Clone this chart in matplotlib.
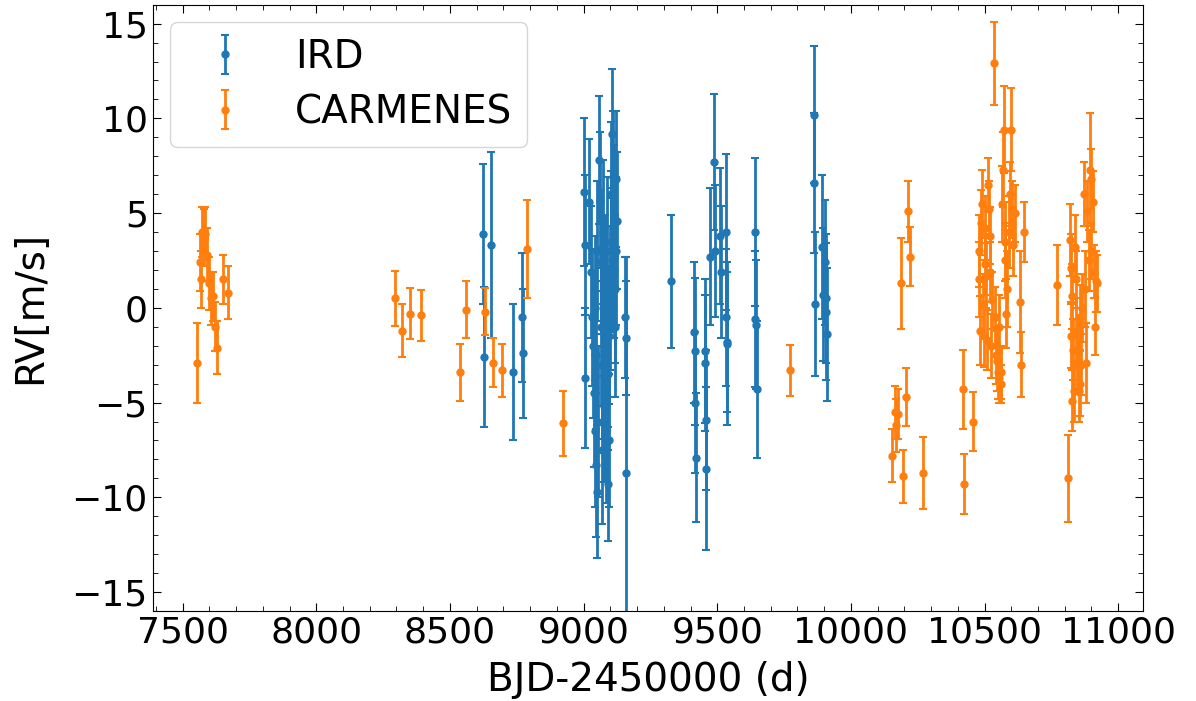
import numpy as np
import matplotlib
matplotlib.use("Agg")
import matplotlib.pyplot as plt
from matplotlib.ticker import MultipleLocator

# IRD radial velocities (BJD-2450000, RV [m/s], error [m/s])
ird_bjd = [8624, 8626, 8652, 8736, 8769, 8775,
           9002, 9004, 9006, 9020, 9028, 9032, 9036, 9040, 9042, 9044, 9046,
           9048, 9050, 9052, 9054, 9058, 9062, 9064, 9066, 9068, 9070, 9072,
           9075, 9078, 9080, 9082, 9085, 9088, 9090, 9092, 9095, 9096, 9100,
           9102, 9104, 9106, 9108, 9110, 9112, 9114, 9116, 9118, 9120, 9122,
           9125, 9155, 9158, 9160,
           9328, 9413, 9415, 9417, 9419, 9453, 9455, 9457, 9459, 9473, 9488,
           9490, 9512, 9514, 9531, 9533, 9535, 9537, 9641, 9643, 9645, 9647,
           9861, 9863, 9865, 9892, 9894, 9904, 9906, 9908, 9910]
ird_rv = [3.9, -2.6, 3.3, -3.4, -0.5, -2.4,
          6.1, 3.3, -3.7, 5.6, 1.9, -0.5, -2.0, -4.5, 0.0, -6.5, -2.5,
          -8.3, 3.0, -9.7, -6.0, 7.8, 5.7, 2.4, -1.0, -7.5, -3.0, 4.0,
          -5.2, -2.0, 1.0, -6.5, -4.8, 3.0, -9.3, -3.5, -1.5, -7.0, 0.5,
          6.0, 3.5, 9.2, 2.5, 6.9, 4.8, 2.0, -1.0, 1.0, 3.0, 6.8,
          4.6, -0.5, -1.6, -8.7,
          1.4, -1.3, -2.3, -5.0, -7.9, -2.3, -2.9, -5.9, -8.5, 2.7, 7.7,
          3.0, 3.8, 1.9, 4.0, -0.5, -1.8, -1.9, 4.0, -0.6, -0.9, -4.3,
          10.2, 6.6, 0.2, 3.2, 0.7, 2.4, 0.5, -0.2, -1.4]
ird_err = [3.7, 3.7, 4.9, 3.6, 3.4, 3.4,
           3.9, 3.7, 3.7, 3.3, 3.5, 3.6, 3.8, 3.9, 3.8, 4.0, 3.9,
           3.8, 3.7, 3.5, 4.0, 3.4, 3.6, 3.8, 4.2, 3.9, 3.9, 3.8,
           4.0, 4.0, 3.9, 3.8, 4.0, 3.9, 3.0, 4.0, 3.6, 3.5, 3.8,
           3.8, 3.7, 3.4, 3.8, 3.5, 3.8, 3.6, 3.7, 3.9, 3.9, 3.6,
           3.6, 3.2, 3.0, 11.4,
           3.5, 3.7, 3.9, 3.7, 3.4, 3.8, 3.6, 3.7, 4.3, 3.6, 3.6,
           3.5, 3.6, 3.5, 4.1, 3.6, 3.7, 4.3, 3.9, 3.6, 3.4, 3.6,
           3.6, 3.7, 3.8, 3.8, 3.5, 3.3, 3.4, 3.6, 3.5]

# CARMENES radial velocities
carm_bjd = [7555, 7565, 7568, 7574, 7578, 7585, 7592, 7598, 7606, 7614,
            7622, 7628, 7652, 7670,
            8296, 8321, 8350, 8392, 8537, 8560, 8631, 8660, 8694, 8790,
            8924, 9774,
            10154, 10165, 10170, 10175, 10188, 10196, 10206, 10213, 10221,
            10269, 10419, 10425, 10456,
            10478, 10481, 10484, 10488, 10491, 10494, 10497, 10500, 10503,
            10506, 10509, 10513, 10516, 10519, 10522, 10525, 10528, 10535,
            10540, 10543, 10546, 10550, 10553, 10556, 10560, 10563, 10566,
            10569, 10572, 10575, 10578, 10581, 10585, 10590, 10594, 10600,
            10604, 10608, 10615, 10633, 10637, 10648,
            10771, 10812, 10820, 10822, 10824, 10826, 10829, 10832, 10835,
            10838, 10841, 10844, 10847, 10850, 10853, 10856, 10859, 10862,
            10866, 10871, 10876, 10880, 10885, 10890, 10894, 10897, 10900,
            10904, 10908, 10913, 10916, 10922]
carm_rv = [-2.9, 2.4, 1.5, 4.0, 3.7, 3.9, 2.8, 1.3, 0.5, 0.6,
           -1.0, -2.1, 1.5, 0.8,
           0.5, -1.2, -0.3, -0.4, -3.4, -0.1, -0.2, -2.9, -3.3, 3.1,
           -6.1, -3.3,
           -7.8, -5.5, -6.2, -5.6, 1.3, -8.9, -4.7, 5.1, 2.7,
           -8.7, -4.3, -9.3, -6.0,
           1.5, 3.0, -1.2, 4.5, 5.5, 0.2, -1.5, 2.3, 4.2,
           1.7, -1.7, 6.5, 5.2, 1.9, 3.8, -2.0, 0.4, 12.9,
           -0.5, -2.5, -2.8, -3.4, -1.0, -3.7, -3.4, -4.0, 5.5,
           7.3, 9.4, 3.5, 2.5, -0.3, 1.0, 4.0, 6.0, 9.4,
           5.2, 3.3, 5.0, 0.3, -3.0, 4.0,
           1.2, -9.0, 3.6, 2.1, -1.5, -4.9, 0.6, -2.2, -4.4,
           3.2, -1.3, 1.5, -3.0, -2.2, -4.4, -0.5, -4.0, -3.0,
           0.0, 6.0, 1.0, -2.9, 5.1, 2.5, 7.3, 6.8, 3.0,
           5.6, 1.9, -1.0, 1.4, 1.3]
carm_err = [2.1, 1.5, 1.5, 1.3, 1.5, 1.4, 1.4, 1.4, 1.4, 1.3,
            1.3, 1.4, 1.3, 1.4,
            1.45, 1.4, 1.35, 1.35, 1.5, 1.5, 1.25, 1.3, 1.4, 2.6,
            1.7, 1.35,
            1.4, 1.4, 1.4, 1.3, 2.4, 1.4, 1.55, 1.6, 1.55,
            1.9, 2.1, 1.6, 1.55,
            2.0, 1.9, 1.8, 1.7, 1.8, 1.6, 1.6, 1.6, 1.7,
            1.7, 1.6, 1.4, 1.5, 1.6, 1.5, 1.7, 1.5, 2.2,
            1.6, 1.5, 1.6, 1.4, 1.7, 1.3, 1.4, 1.0, 2.0,
            2.0, 2.3, 2.1, 2.0, 1.8, 2.0, 1.9, 1.7, 2.2,
            1.5, 1.6, 1.5, 2.7, 1.7, 1.6,
            2.1, 2.3, 1.9, 1.8, 1.7, 1.6, 1.7, 1.6, 1.6,
            1.7, 1.8, 1.5, 1.5, 1.6, 1.6, 1.7, 1.7, 1.6,
            1.8, 1.7, 2.0, 2.1, 1.6, 1.6, 3.0, 1.6, 1.5,
            1.6, 1.4, 1.5, 1.6, 1.5]

fs_tick = 26
fs_label = 28
fig = plt.figure(figsize=(11.96, 7.01), dpi=100)
ax = fig.add_subplot(111)
fig.subplots_adjust(left=0.1277, right=0.9557, top=0.9933, bottom=0.1284)

ebkw = dict(fmt="o", ms=5, elinewidth=2.0, capsize=3, capthick=1.5)
ax.errorbar(ird_bjd, ird_rv, yerr=ird_err, color="tab:blue", label="IRD", **ebkw)
ax.errorbar(carm_bjd, carm_rv, yerr=carm_err, color="tab:orange",
            label="CARMENES", **ebkw)

ax.set_xlim(7388, 11093)
ax.set_ylim(-16, 16)
ax.xaxis.set_major_locator(MultipleLocator(500))
ax.xaxis.set_minor_locator(MultipleLocator(100))
ax.yaxis.set_major_locator(MultipleLocator(5))
ax.yaxis.set_minor_locator(MultipleLocator(1))
ax.tick_params(which="both", direction="in", top=True, right=True,
               labelsize=fs_tick)
ax.tick_params(which="major", length=6)
ax.tick_params(which="minor", length=3.5)

ax.set_xlabel("BJD-2450000 (d)", fontsize=fs_label, labelpad=8)
ax.set_ylabel("RV[m/s]", fontsize=fs_label, labelpad=16)
ax.legend(loc="upper left", fontsize=fs_label, labelspacing=0.45,
          borderaxespad=0.45)

fig.savefig("out.png", dpi=100)
